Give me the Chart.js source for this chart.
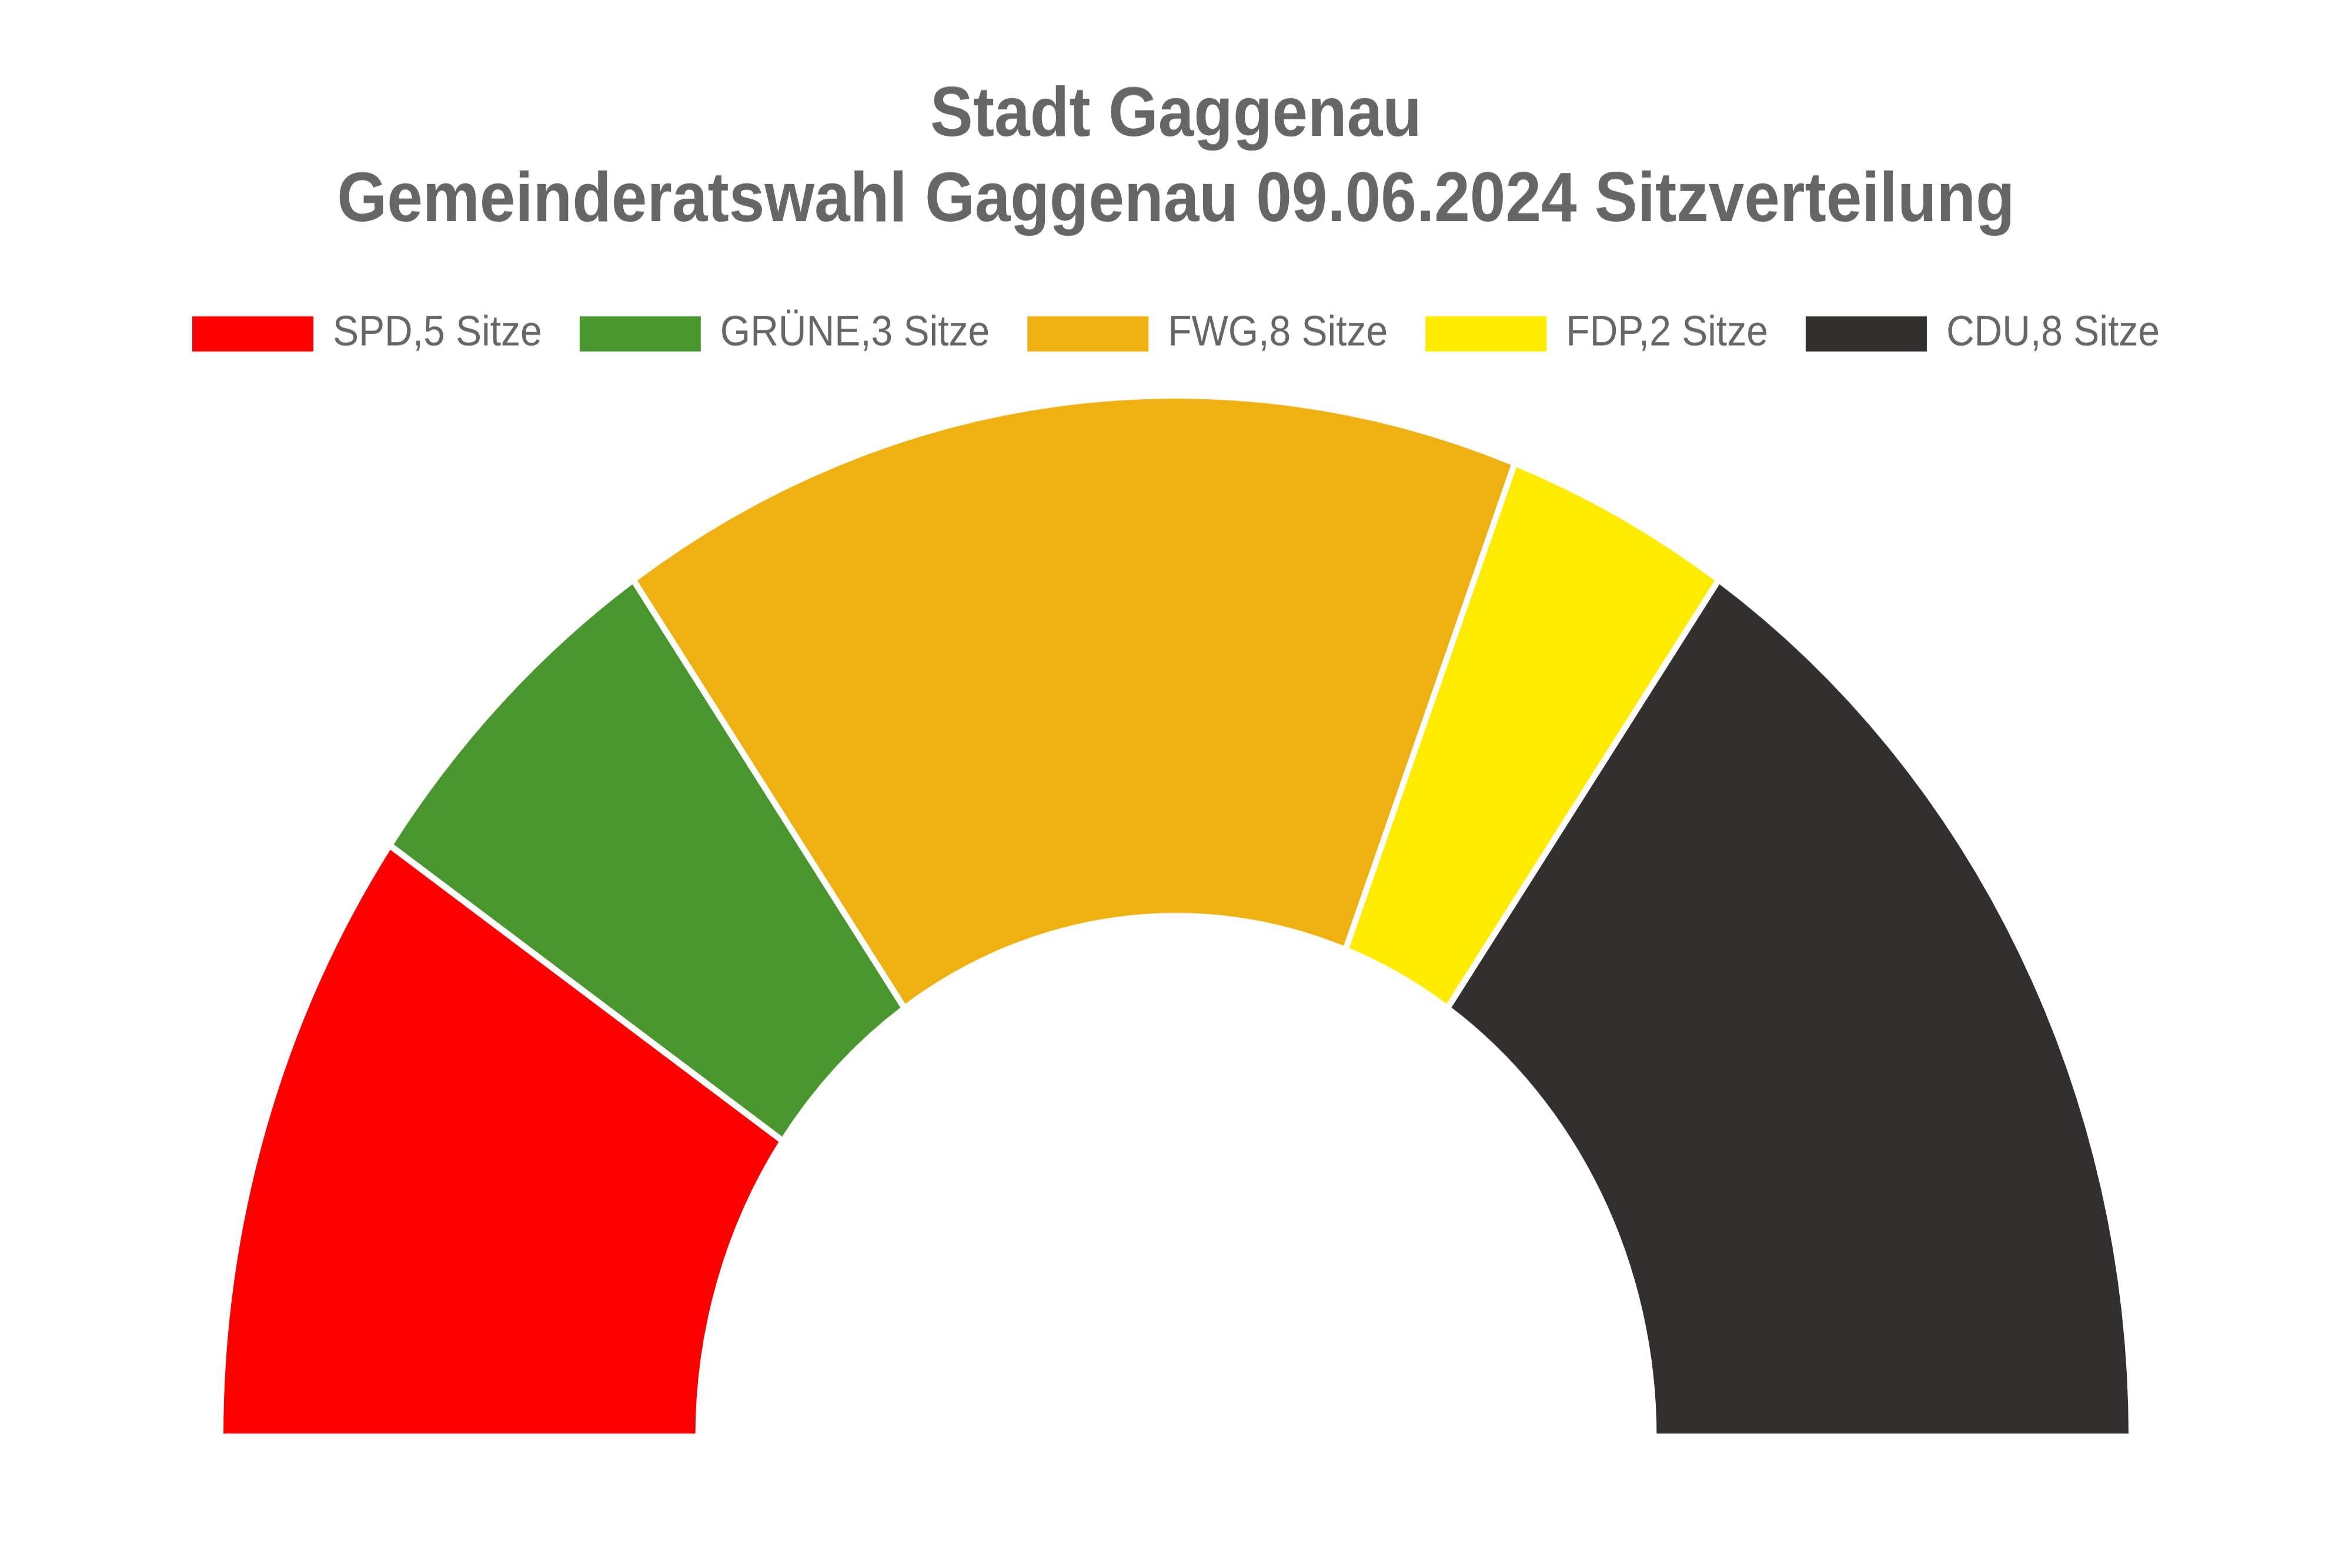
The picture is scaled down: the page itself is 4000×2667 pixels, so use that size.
<!DOCTYPE html>
<html>
<head>
<meta charset="utf-8">
<script src="https://cdn.jsdelivr.net/npm/chart.js@4/dist/chart.umd.min.js"></script>
<style>
  html, body { margin: 0; padding: 0; background: #ffffff; overflow: hidden; }
  #wrap { position: absolute; left: 0; top: 0; width: 4000px; height: 2447px; transform: scaleY(1.09); transform-origin: 0 0; }
</style>
</head>
<body>
<div id="wrap"><canvas id="c"></canvas></div>
<script>
const titleLines = ['Stadt Gaggenau', 'Gemeinderatswahl Gaggenau 09.06.2024 Sitzverteilung'];
const parties = ['SPD', 'GRÜNE', 'FWG', 'FDP', 'CDU'];
const seats = [5, 3, 8, 2, 8];
const partyColors = ['#FF0000', '#4A962E', '#EFB111', '#FFEC00', '#32302F'];
const legendLabels = parties.map((p, i) => p + ',' + seats[i] + ' Sitze');

Chart.defaults.font.family = '"Liberation Sans", Arial, sans-serif';
Chart.defaults.color = '#666666';

new Chart(document.getElementById('c'), {
  type: 'doughnut',
  data: {
    labels: legendLabels,
    datasets: [{
      data: seats,
      backgroundColor: partyColors,
      borderColor: '#ffffff',
      borderWidth: 10,
      hoverOffset: 0,
      radius: 1625
    }]
  },
  options: {
    responsive: true,
    maintainAspectRatio: false,
    devicePixelRatio: 1,
    animation: false,
    rotation: -90,
    circumference: 180,
    cutout: '50%',
    layout: { padding: { top: 0, bottom: 152, left: 0, right: 0 } },
    plugins: {
      title: {
        display: true,
        text: titleLines,
        color: '#666666',
        font: { size: 109, weight: 'bold', lineHeight: 1.22 },
        padding: { top: 115, bottom: 43 }
      },
      legend: {
        display: true,
        position: 'top',
        labels: {
          color: '#666666',
          font: { size: 66 },
          boxWidth: 206,
          boxHeight: 55,
          padding: 64,
          generateLabels: (chart) => Chart.overrides.doughnut.plugins.legend.labels.generateLabels(chart).map(l => Object.assign(l, { lineWidth: 0, strokeStyle: 'rgba(0,0,0,0)' }))
        }
      },
      tooltip: { enabled: false }
    }
  }
});
</script>
</body>
</html>
